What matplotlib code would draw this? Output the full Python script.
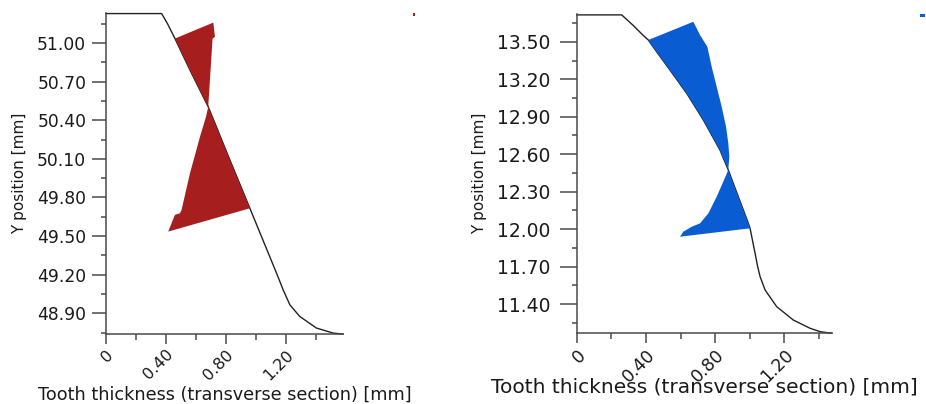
import matplotlib
matplotlib.use("Agg")
import matplotlib.pyplot as plt
from matplotlib.patches import Rectangle
from matplotlib.ticker import FixedLocator, FuncFormatter

# ---- Gear A (left): tooth flank profile and deviation band ----
prof_a_x = [0.0, 0.371, 0.41, 0.46, 0.56, 0.682, 0.82, 0.96, 1.138, 1.182, 1.227, 1.293, 1.404, 1.516, 1.582]
prof_a_y = [51.228, 51.228, 51.15, 51.034, 50.79, 50.504, 50.11, 49.716, 49.212, 49.083, 48.966, 48.876, 48.786, 48.747, 48.739]

dev_a_upper_x = [0.46, 0.716, 0.727, 0.711, 0.682, 0.56]
dev_a_upper_y = [51.034, 51.158, 51.047, 51.034, 50.504, 50.79]

dev_a_lower_x = [0.682, 0.82, 0.96, 0.415, 0.46, 0.493, 0.504, 0.56, 0.627, 0.667]
dev_a_lower_y = [50.504, 50.11, 49.716, 49.535, 49.665, 49.677, 49.703, 49.987, 50.271, 50.426]

ticks_a_y = [48.90, 49.20, 49.50, 49.80, 50.10, 50.40, 50.70, 51.00]

# ---- Gear B (right): tooth flank profile and deviation band ----
prof_b_x = [0.0, 0.26, 0.327, 0.385, 0.414, 0.462, 0.539, 0.636, 0.732, 0.828, 0.876, 0.934,
            0.992, 1.002, 1.031, 1.046, 1.060, 1.089, 1.156, 1.252, 1.349, 1.407, 1.474]
prof_b_y = [13.715, 13.715, 13.63, 13.55, 13.514, 13.42, 13.274, 13.087, 12.874, 12.634, 12.474, 12.26,
            12.047, 12.007, 11.807, 11.70, 11.62, 11.513, 11.38, 11.273, 11.207, 11.18, 11.167]

dev_b_upper_x = [0.414, 0.674, 0.713, 0.755, 0.780, 0.809, 0.838, 0.863, 0.876, 0.882, 0.876,
                 0.828, 0.732, 0.636, 0.539, 0.462]
dev_b_upper_y = [13.514, 13.66, 13.553, 13.46, 13.30, 13.14, 12.98, 12.82, 12.69, 12.58, 12.474,
                 12.634, 12.874, 13.087, 13.274, 13.42]

dev_b_lower_x = [0.876, 0.934, 0.992, 1.002, 0.597, 0.616, 0.665, 0.713, 0.761, 0.809, 0.847]
dev_b_lower_y = [12.474, 12.26, 12.047, 12.007, 11.94, 11.98, 12.02, 12.047, 12.127, 12.26, 12.38]

ticks_b_y = [11.40, 11.70, 12.00, 12.30, 12.60, 12.90, 13.20, 13.50]

ticks_x = [0.0, 0.40, 0.80, 1.20]
ticks_x_minor = [0.20, 0.60, 1.00, 1.40]

RED = "#a61e1e"
BLUE = "#0a5cd2"
AXIS = "#4a4a4a"
TEXT = "#1a1a1a"

plt.rcParams["font.family"] = ["DejaVu Sans"]

fig = plt.figure(figsize=(9.26, 4.04), dpi=100)
ax_a = fig.add_axes([0.1145, 0.173, 0.256, 0.795])
ax_b = fig.add_axes([0.6228, 0.175, 0.2754, 0.790])


def x_fmt(v, _):
    return "0" if abs(v) < 1e-9 else f"{v:.2f}"


def style(ax, xlim, ylim, yticks, ytick_fs, xtick_fs, xlabel_fs, ymajor_len, ypad, xlab_y, ylab_x):
    ax.set_xlim(*xlim)
    ax.set_ylim(*ylim)
    for s in ("top", "right"):
        ax.spines[s].set_visible(False)
    for s in ("left", "bottom"):
        ax.spines[s].set_color(AXIS)
        ax.spines[s].set_linewidth(1.1)
    ax.xaxis.set_major_locator(FixedLocator(ticks_x))
    ax.xaxis.set_minor_locator(FixedLocator(ticks_x_minor))
    ax.xaxis.set_major_formatter(FuncFormatter(x_fmt))
    ax.yaxis.set_major_locator(FixedLocator(yticks))
    step = yticks[1] - yticks[0]
    minor = [t + step / 2 for t in yticks] + [yticks[0] - step / 2]
    ax.yaxis.set_minor_locator(FixedLocator(minor))
    ax.yaxis.set_major_formatter(FuncFormatter(lambda v, _: f"{v:.2f}"))
    ax.tick_params(axis="x", which="major", direction="out", length=7.2, width=1.1,
                   color=AXIS, labelsize=xtick_fs, labelcolor=TEXT, pad=2)
    ax.tick_params(axis="x", which="minor", direction="out", length=4, width=1.1, color=AXIS)
    ax.tick_params(axis="y", which="major", direction="out", length=ymajor_len, width=1.1,
                   color=AXIS, labelsize=ytick_fs, labelcolor=TEXT, pad=ypad)
    ax.tick_params(axis="y", which="minor", direction="out", length=3.6, width=1.1, color=AXIS)
    for lab in ax.get_xticklabels():
        lab.set_rotation(45)
        lab.set_ha("right")
        lab.set_va("top")
        lab.set_rotation_mode("anchor")
    ax.set_xlabel("Tooth thickness (transverse section) [mm]", fontsize=xlabel_fs, color=TEXT)
    ax.xaxis.set_label_coords(0.5, xlab_y)
    ax.xaxis.label.set_va("top")
    ax.set_ylabel("Y position [mm]", fontsize=11, color=TEXT)
    ax.yaxis.set_label_coords(ylab_x, 0.5)
    ax.yaxis.label.set_va("center")


ax_a.plot(prof_a_x, prof_a_y, color="#222222", lw=1.0, zorder=2, clip_on=False)
ax_a.fill(dev_a_upper_x, dev_a_upper_y, color=RED, lw=0, zorder=3)
ax_a.fill(dev_a_lower_x, dev_a_lower_y, color=RED, lw=0, zorder=3)
style(ax_a, (0, 1.582), (48.739, 51.233), ticks_a_y, 12.3, 11.5, 12.7, 10, 4.3, -0.160, -0.363)

ax_b.plot(prof_b_x, prof_b_y, color="#222222", lw=1.0, zorder=2, clip_on=False)
ax_b.fill(dev_b_upper_x, dev_b_upper_y, color=BLUE, lw=0, zorder=3)
ax_b.fill(dev_b_lower_x, dev_b_lower_y, color=BLUE, lw=0, zorder=3)
style(ax_b, (0, 1.474), (11.167, 13.721), ticks_b_y, 13.5, 12.5, 14.5, 12, 7, -0.140, -0.379)

# Legend swatch fragments at the top-right corner of each panel
fig.add_artist(Rectangle((0.446, 0.960), 0.0025, 0.007, transform=fig.transFigure,
                         color=RED, lw=0))
fig.add_artist(Rectangle((0.994, 0.958), 0.005, 0.007, transform=fig.transFigure,
                         color=BLUE, lw=0))

fig.savefig("out.png", dpi=100)
